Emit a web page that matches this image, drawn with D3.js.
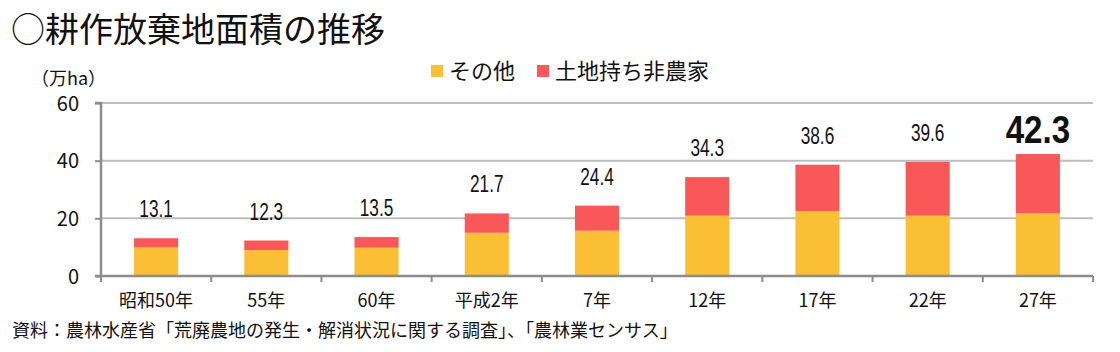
<!DOCTYPE html>
<html><head><meta charset="utf-8">
<script src="https://cdn.jsdelivr.net/npm/d3@7"></script>
<style>
html,body{margin:0;padding:0;background:#fff;}
svg{display:block;font-family:"Noto Sans CJK JP","Noto Sans",sans-serif;}
</style></head>
<body><svg id="c" width="1120" height="352"></svg>
<script>
const categories = ["昭和50年","55年","60年","平成2年","7年","12年","17年","22年","27年"];
const other = [9.9, 9.0, 9.8, 15.0, 15.7, 20.9, 22.5, 20.9, 21.7];
const nonFarm = [3.2, 3.3, 3.7, 6.7, 8.7, 13.4, 16.1, 18.7, 20.6];
const totals = [13.1, 12.3, 13.5, 21.7, 24.4, 34.3, 38.6, 39.6, 42.3];
const yTicks = [0, 20, 40, 60];
const seriesNames = ["その他", "土地持ち非農家"];
const colors = ["#FBBF35", "#F85858"];

(function(){
const svg = d3.select("#c");
const mL = 101, mR = 1093, mT = 103, mB = 276;
const x = d3.scaleBand().domain(categories).range([mL, mR]).paddingInner(0.6).paddingOuter(0.3);
const xb = d3.scaleBand().domain(categories).range([mL, mR]);
const y = d3.scaleLinear().domain([0, 60]).range([mB, mT]);
const cjk = "'Noto Sans CJK JP','Noto Sans',sans-serif";
const latin = "'Liberation Sans','DejaVu Sans',sans-serif";

// title
svg.append("text").attr("x", 11).attr("y", 42).style("font-size", "34px").style("font-family", cjk)
  .attr("fill", "#111").text("○耕作放棄地面積の推移");

// grid
svg.append("g").selectAll("line").data(yTicks.filter(d => d > 0)).join("line")
  .attr("x1", mL).attr("x2", mR).attr("y1", d => y(d)).attr("y2", d => y(d))
  .attr("stroke", "#bdbdbd").attr("stroke-width", 2);

// stacked bars
const rows = categories.map((c, i) => ({cat: c, other: other[i], nonFarm: nonFarm[i]}));
const stack = d3.stack().keys(["other", "nonFarm"])(rows);
svg.append("g").selectAll("g").data(stack).join("g").attr("fill", (d, i) => colors[i])
  .selectAll("rect").data(d => d).join("rect")
  .attr("x", d => x(d.data.cat)).attr("width", x.bandwidth())
  .attr("y", d => y(d[1])).attr("height", d => y(d[0]) - y(d[1]));

// y axis
const yAxis = d3.axisLeft(y).tickValues(yTicks).tickSize(6).tickFormat(d3.format("d"));
const gy = svg.append("g").attr("transform", `translate(${mL},0)`).call(yAxis);
gy.select(".domain").attr("stroke", "#8c8c8c").attr("stroke-width", 2.5).attr("d", `M-6,${mT}H0V${mB}`);
gy.selectAll(".tick line").attr("stroke", "#8c8c8c").attr("stroke-width", 2);
gy.selectAll(".tick text").attr("fill", "#111").attr("x", -22).attr("dy", "0.36em")
  .style("font-size", "20px").style("font-family", cjk);

// bottom axis
svg.append("line").attr("x1", mL - 6).attr("x2", mR).attr("y1", mB).attr("y2", mB)
  .attr("stroke", "#8c8c8c").attr("stroke-width", 2.5);
const bounds = categories.map(c => xb(c)).concat([mR]);
svg.append("g").selectAll("line").data(bounds).join("line")
  .attr("x1", d => d).attr("x2", d => d).attr("y1", mB).attr("y2", mB + 6)
  .attr("stroke", "#8c8c8c").attr("stroke-width", 2);
svg.append("g").selectAll("text").data(categories).join("text")
  .attr("x", d => xb(d) + xb.bandwidth() / 2).attr("y", 307).attr("text-anchor", "middle")
  .style("font-size", "18px").style("font-family", cjk).attr("fill", "#111").text(d => d);

// y title
svg.append("text").attr("x", 31).attr("y", 85).style("font-size", "18px").style("font-family", cjk)
  .attr("fill", "#111").text("（万ha）");

// totals labels (horizontally condensed)
const last = totals.length - 1;
svg.append("g").selectAll("text").data(totals).join("text")
  .attr("transform", (d, i) => `translate(${x(categories[i]) + x.bandwidth() / 2},${y(d) - (i === last ? 11 : 21)}) scale(${i === last ? 0.85 : 0.75},1)`)
  .attr("text-anchor", "middle")
  .style("font-family", latin)
  .style("font-size", (d, i) => i === last ? "39px" : "23px")
  .style("font-weight", (d, i) => i === last ? "bold" : "normal")
  .attr("fill", "#111").text(d => d.toFixed(1));

// legend
const leg = svg.append("g");
const legX = [431, 537];
seriesNames.forEach((n, i) => {
  leg.append("rect").attr("x", legX[i]).attr("y", 65).attr("width", 12).attr("height", 12).attr("fill", colors[i]);
  leg.append("text").attr("x", legX[i] + 18).attr("y", 79).style("font-size", "22px").style("font-family", cjk)
    .attr("fill", "#111").text(n);
});

// source
svg.append("text").attr("x", 12).attr("y", 337).style("font-size", "18px").style("font-family", cjk)
  .attr("fill", "#111")
  .text("資料：農林水産省「荒廃農地の発生・解消状況に関する調査」、「農林業センサス」");
})();
</script></body></html>
